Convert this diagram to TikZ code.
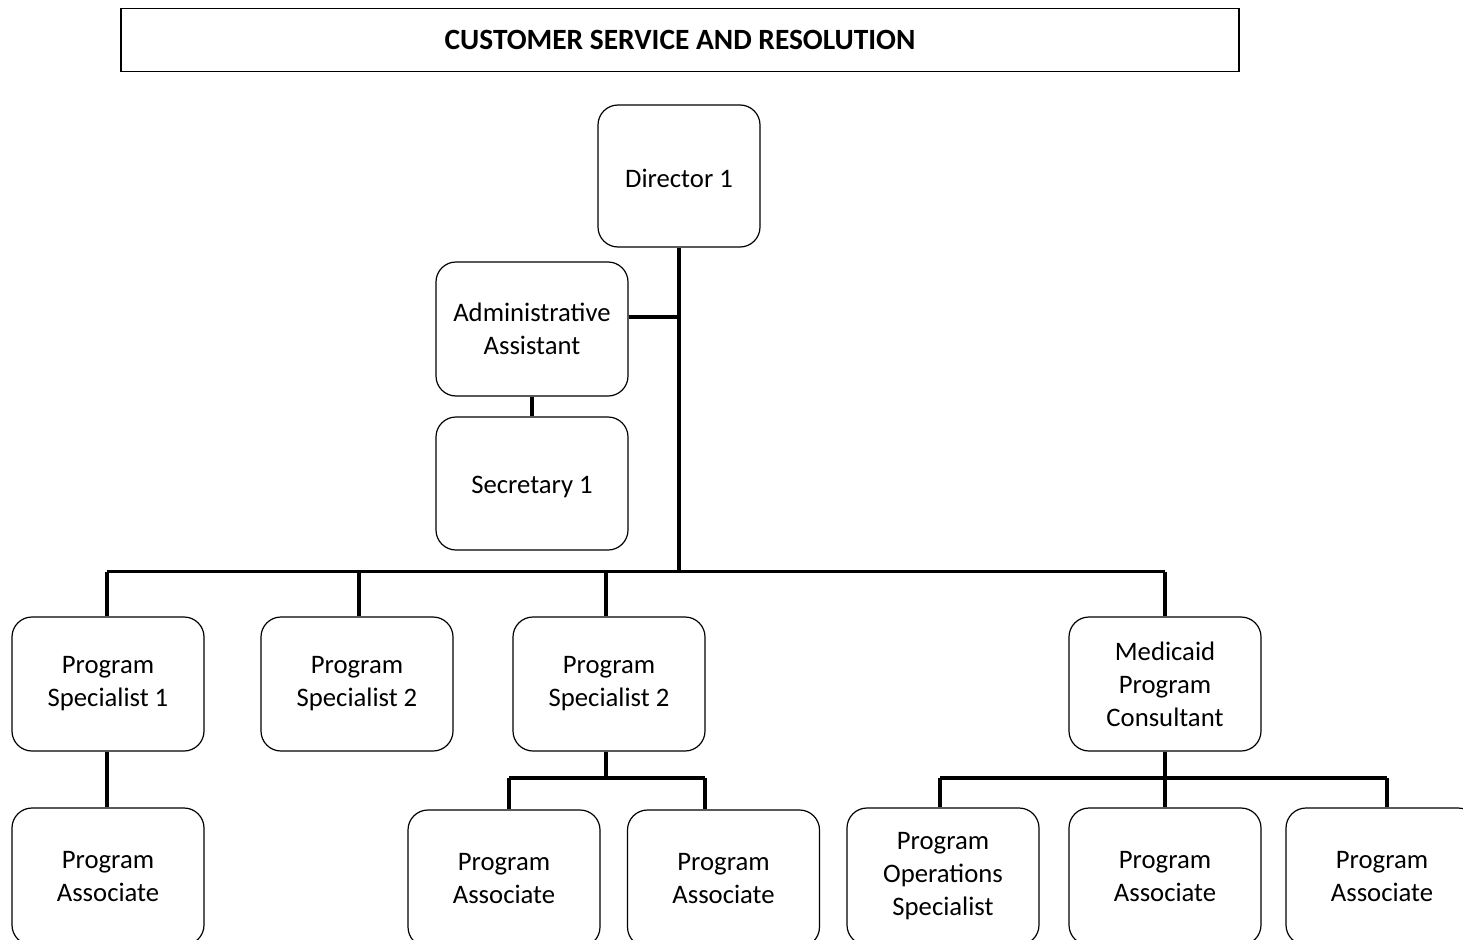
\documentclass[tikz,border=0pt]{standalone}
\usepackage{fontspec}
\setmainfont{Carlito}
\begin{document}
\begin{tikzpicture}[x=1pt,y=-1pt,
  box/.style={draw=black,line width=1.2pt,rounded corners=20pt,minimum width=192pt,minimum height=134pt,align=center,inner sep=0pt,font=\fontsize{26.7}{33}\selectfont,execute at begin node={\rule{0pt}{23.5pt}}},
  conn/.style={line width=3.6pt},
  titlebox/.style={draw=black,line width=1.3pt,minimum width=1118pt,minimum height=62.5pt,inner sep=0pt,font=\fontsize{29.4}{32}\selectfont\bfseries}]
\clip (0,0) rectangle (1463,939);
\fill[white] (0,0) rectangle (1463,939);
\node[titlebox] (title) at (680,40) {CUSTOMER SERVICE AND RESOLUTION};
\node[box,minimum width=162pt,minimum height=142pt] (dir) at (679,176) {Director 1};
\node[box] (admin) at (532,329) {Administrative\\Assistant};
\node[box,minimum height=133pt] (sec) at (532,483.5) {Secretary 1};
\node[box] (ps1) at (108,684) {Program\\Specialist 1};
\node[box] (ps2a) at (357,684) {Program\\Specialist 2};
\node[box] (ps2b) at (609,684) {Program\\Specialist 2};
\node[box] (med) at (1165,684) {Medicaid\\Program\\Consultant};
\node[box,minimum height=137pt] (pa1) at (108,876.5) {Program\\Associate};
\node[box,minimum height=137pt] (pa2) at (504,878.5) {Program\\Associate};
\node[box,minimum height=137pt] (pa3) at (723.5,878.5) {Program\\Associate};
\node[box,minimum height=137pt] (pos) at (943,876.5) {Program\\Operations\\Specialist};
\node[box,minimum height=137pt] (pa4) at (1165,876.5) {Program\\Associate};
\node[box,minimum height=137pt] (pa5) at (1382,876.5) {Program\\Associate};
% bus coordinates
\coordinate (aj) at (679,317);
\coordinate (j) at (679,571.5);
\coordinate (busL) at (107,571.5);
\coordinate (busR) at (1165,571.5);
\coordinate (d2) at (359,571.5);
\coordinate (d3) at (606,571.5);
\coordinate (sbL) at (509,778);
\coordinate (sbR) at (705,778);
\coordinate (mbL) at (940,778);
\coordinate (mbR) at (1387,778);
\draw[conn] (dir.south) -- (j);
\draw[conn] (admin.east |- aj) -- (aj);
\draw[conn] (admin.south) -- (sec.north);
\draw[conn] (busL) -- (busR);
\draw[conn] (busL) -- (busL |- ps1.north);
\draw[conn] (d2) -- (d2 |- ps2a.north);
\draw[conn] (d3) -- (d3 |- ps2b.north);
\draw[conn] (busR) -- (busR |- med.north);
\draw[conn] (busL |- ps1.south) -- (busL |- pa1.north);
\draw[conn] (d3 |- ps2b.south) -- (d3 |- sbL);
\draw[conn] (sbL) -- (sbR);
\draw[conn] (sbL) -- (sbL |- pa2.north);
\draw[conn] (sbR) -- (sbR |- pa3.north);
\draw[conn] (med.south) -- (busR |- mbL);
\draw[conn] (mbL) -- (mbR);
\draw[conn] (mbL) -- (mbL |- pos.north);
\draw[conn] (busR |- mbL) -- (pa4.north);
\draw[conn] (mbR) -- (mbR |- pa5.north);
\end{tikzpicture}
\end{document}
